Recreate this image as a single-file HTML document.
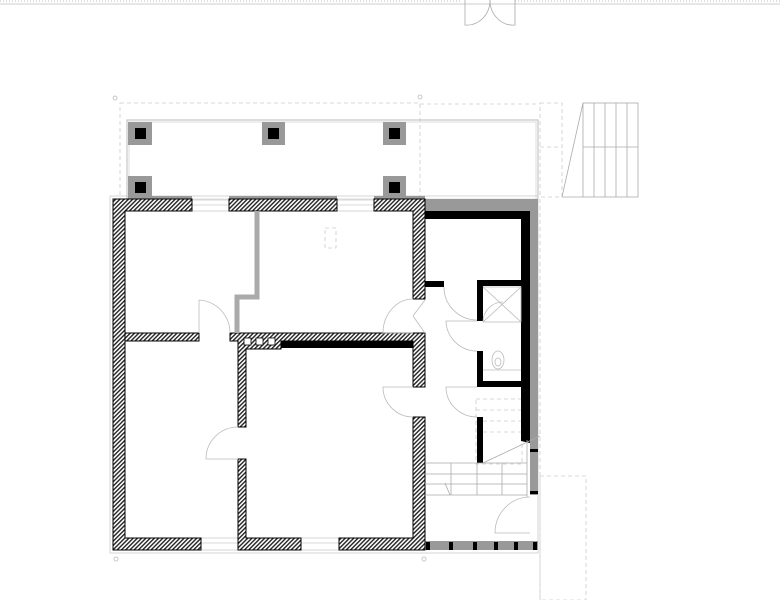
<!DOCTYPE html>
<html><head><meta charset="utf-8"><style>html,body{margin:0;padding:0;background:#fff}svg{display:block}</style></head>
<body>
<svg width="780" height="600" viewBox="0 0 780 600" xmlns="http://www.w3.org/2000/svg">
<defs>
<pattern id="h" width="3" height="3" patternUnits="userSpaceOnUse" patternTransform="rotate(45)">
<rect width="3" height="3" fill="#fff"/><rect width="1.4" height="3" fill="#222"/>
</pattern>
</defs>
<!-- top strip -->
<line x1="0" y1="4" x2="780" y2="4" stroke="#ccc" stroke-width="1"/>
<line x1="0" y1="1" x2="460" y2="1" stroke="#ddd" stroke-width="2" stroke-dasharray="1,2"/>
<line x1="515" y1="1" x2="780" y2="1" stroke="#ddd" stroke-width="2" stroke-dasharray="1,2"/>
<g fill="none" stroke="#aaa" stroke-width="0.8">
<path d="M465 0 V25 A23 25 0 0 0 490 0"/><path d="M515 0 V25 A23 25 0 0 1 490 0"/>
</g>
<!-- dashed outlines -->
<g fill="none" stroke="#ccc" stroke-width="0.8" stroke-dasharray="4,3">
<rect x="120" y="103" width="300" height="96"/>
<line x1="420" y1="104" x2="540" y2="104"/>
<rect x="540" y="103" width="22" height="94"/>
<line x1="540" y1="147" x2="562" y2="147"/>
<line x1="540" y1="199" x2="540" y2="600"/>
<rect x="540" y="476" width="46" height="124"/>
<rect x="476" y="399" width="46" height="65"/>
<line x1="476" y1="410" x2="522" y2="410"/><line x1="476" y1="421" x2="522" y2="421"/><line x1="476" y1="432" x2="522" y2="432"/>
<rect x="325" y="228" width="11" height="20"/>
</g>
<g fill="none" stroke="#bbb" stroke-width="0.8">
<circle cx="115" cy="98" r="2"/><circle cx="420" cy="97" r="2"/><circle cx="116" cy="559" r="2"/><circle cx="424" cy="559" r="2"/>
</g>
<!-- porch outline -->
<rect x="127" y="120" width="411" height="79" fill="none" stroke="#bbb" stroke-width="1"/>
<rect x="129" y="122" width="407" height="77" fill="none" stroke="#ddd" stroke-width="1"/>
<rect x="110" y="196" width="428" height="357" fill="none" stroke="#ccc" stroke-width="0.8"/>
<!-- stairs top right -->
<g fill="none" stroke="#aaa" stroke-width="0.8">
<rect x="583" y="103" width="55" height="94"/>
<line x1="583" y1="147" x2="638" y2="147"/>
<line x1="594" y1="103" x2="594" y2="197"/><line x1="605" y1="103" x2="605" y2="197"/><line x1="616" y1="103" x2="616" y2="197"/><line x1="627" y1="103" x2="627" y2="197"/>
<line x1="583" y1="103" x2="562" y2="197"/><line x1="562" y1="197" x2="583" y2="197"/>
</g>
<!-- pillars -->
<g fill="#999">
<rect x="128" y="122" width="24" height="23"/><rect x="262" y="122" width="23" height="23"/><rect x="383" y="122" width="23" height="23"/>
<rect x="128" y="176" width="24" height="23"/><rect x="383" y="176" width="23" height="23"/>
<rect x="128" y="196" width="64" height="4"/><rect x="229" y="196" width="108" height="4"/><rect x="374" y="196" width="51" height="4"/>
<rect x="425" y="199" width="113" height="12"/>
<rect x="530" y="199" width="8" height="296"/>
<rect x="425" y="541" width="113" height="9"/>
</g>
<g fill="#000">
<rect x="135" y="128" width="11" height="11"/><rect x="268" y="128" width="11" height="11"/><rect x="389" y="128" width="11" height="11"/>
<rect x="135" y="182" width="11" height="11"/><rect x="389" y="182" width="11" height="11"/>
</g>
<!-- windows -->
<g fill="none" stroke="#ccc" stroke-width="0.8">
<rect x="192" y="200" width="37" height="11"/><line x1="192" y1="205" x2="229" y2="205"/>
<rect x="337" y="200" width="37" height="11"/><line x1="337" y1="205" x2="374" y2="205"/>
<rect x="201" y="538" width="37" height="12"/><line x1="201" y1="543" x2="238" y2="543"/>
<rect x="301" y="538" width="38" height="12"/><line x1="301" y1="543" x2="339" y2="543"/>
</g>
<!-- hatched walls -->
<g fill="url(#h)" stroke="#000" stroke-width="1">
<path d="M113 199 H192 V211 H125 V538 H201 V550 H113 Z"/>
<rect x="229" y="199" width="108" height="12"/>
<path d="M374 199 H425 V299 H413 V211 H374 Z"/>
<rect x="125" y="333" width="74" height="8"/>
<path d="M230 333 H425 V387 H413 V341 H281 V349 H246 V427 H238 V341 H230 Z"/>
<path d="M413 417 H425 V550 H339 V538 H413 Z"/>
<path d="M238 459 H246 V538 H301 V550 H238 Z"/>
</g>
<g fill="#fff" stroke="#000" stroke-width="0.8">
<rect x="244" y="338" width="7" height="7"/><rect x="256" y="338" width="7" height="7"/><rect x="268" y="338" width="7" height="7"/>
</g>
<!-- gray partition -->
<path d="M257 211 V297 H237 V333" fill="none" stroke="#aaa" stroke-width="5"/>
<!-- black walls -->
<g fill="#000">
<rect x="281" y="341" width="132" height="7"/>
<rect x="425" y="211" width="105" height="8"/>
<rect x="521" y="211" width="9" height="230"/>
<rect x="425" y="281" width="19" height="6"/>
<rect x="477" y="280" width="44" height="6"/>
<rect x="477" y="280" width="6" height="41"/>
<rect x="477" y="351" width="6" height="36"/>
<rect x="477" y="381" width="44" height="6"/>
<rect x="477" y="417" width="6" height="46"/>
<rect x="530" y="449" width="8" height="3"/><rect x="530" y="491" width="8" height="3"/>
<rect x="426" y="542" width="4" height="8"/><rect x="449" y="542" width="4" height="8"/><rect x="473" y="542" width="4" height="8"/><rect x="494" y="542" width="4" height="8"/><rect x="514" y="542" width="4" height="8"/><rect x="533" y="542" width="4" height="8"/>
</g>
<path d="M521 441 L530 436 V443 Z" fill="#000"/>
<!-- stairs lower -->
<g fill="none" stroke="#aaa" stroke-width="0.8">
<line x1="483" y1="463" x2="540" y2="436"/>
<line x1="425" y1="463" x2="527" y2="463"/><line x1="425" y1="474" x2="527" y2="474"/><line x1="425" y1="484" x2="527" y2="484"/><line x1="425" y1="495" x2="527" y2="495"/>
<line x1="451" y1="463" x2="451" y2="495"/><line x1="477" y1="463" x2="477" y2="495"/><line x1="502" y1="463" x2="502" y2="495"/>
<line x1="527" y1="440" x2="527" y2="497"/>
<line x1="445" y1="483" x2="450" y2="495"/>
</g>
<!-- doors -->
<g fill="none" stroke="#bbb" stroke-width="0.8">
<path d="M199 300 V333"/><path d="M199 300 A33 33 0 0 1 230 333"/>
<path d="M413 299 A30 34 0 0 0 383 333 H413"/><path d="M413 316 L425 300 M413 316 L425 333"/>
<path d="M444 287 A33 33 0 0 0 477 320"/>
<path d="M477 321 H446 A31 31 0 0 0 477 351"/>
<path d="M413 387 H383 A30 30 0 0 0 413 417"/>
<path d="M477 387 H446 A31 30 0 0 0 477 417"/>
<path d="M238 427 A32 32 0 0 0 206 459 H238"/>
<path d="M530 497 A35 36 0 0 0 495 533 H530"/>
<path d="M483 287 H521 V322 H483"/><path d="M483 322 A20 20 0 0 1 503 302"/><path d="M483 287 L521 322 M483 322 L521 287"/>
<path d="M483 370 H521"/><ellipse cx="498" cy="360" rx="6" ry="9"/><ellipse cx="498" cy="362" rx="3" ry="4"/>
</g>
</svg>
</body></html>
